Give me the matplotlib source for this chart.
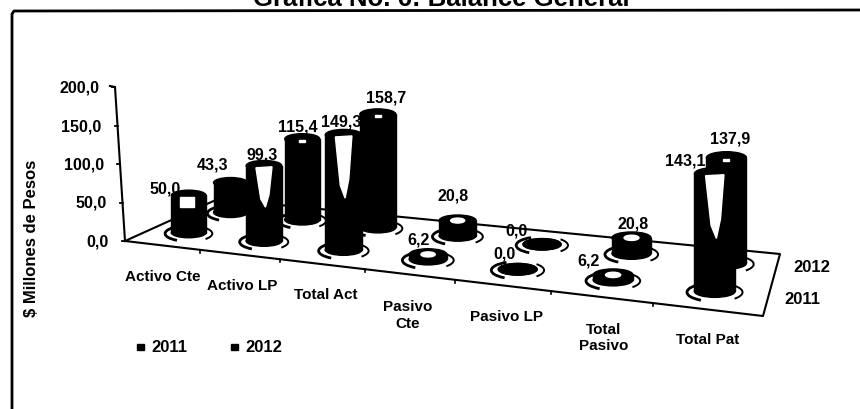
import numpy as np
import matplotlib
matplotlib.use("Agg")
import matplotlib.pyplot as plt
from matplotlib.patches import Ellipse, Rectangle, Arc, Polygon

categories = ["Activo Cte", "Activo LP", "Total Act", "Pasivo\nCte", "Pasivo LP", "Total\nPasivo", "Total Pat"]
values_2011 = [50.0, 99.3, 149.3, 6.2, 0.0, 6.2, 143.1]
values_2012 = [43.3, 115.4, 158.7, 20.8, 0.0, 20.8, 137.9]
y_ticks = [0, 50, 100, 150, 200]

# label nudges in pixels, 2011 then 2012
nudge_2011 = [(-24, -7), (-2, -12), (-2, -14), (-9, -15), (-13, -16), (-25, -15), (-30, -14)]
nudge_2012 = [(-18, -19), (-4, -13), (8, -17), (-5, -26), (-26, -14), (2, -15), (4, -20)]

# category label nudges
label_dx = [1, 3, 4, -1, 4, 2, 0]
label_drop = [31, 31, 30, 40, 31, 40, 30]

plt.rcParams["font.family"] = ["Liberation Sans", "DejaVu Sans"]

# floor corners in pixels: front left, front right, back right, back left
FLOOR = [(125, 242), (763, 317), (780, 255), (218, 200)]


def homography(corners):
    rows, rhs = [], []
    for (u, v), (x, y) in zip([(0, 0), (1, 0), (1, 1), (0, 1)], corners):
        rows.append([u, v, 1, 0, 0, 0, -u * x, -v * x])
        rows.append([0, 0, 0, u, v, 1, -u * y, -v * y])
        rhs += [x, y]
    return np.append(np.linalg.solve(np.array(rows, float), np.array(rhs, float)), 1).reshape(3, 3)


H = homography(FLOOR)


def project(u, v):
    p = H @ np.array([u, v, 1.0])
    return p[0] / p[2], p[1] / p[2]


def px_per_unit(u, v):
    # bars get taller towards the viewer
    return 0.77 + 0.09 * u - 0.12 * v


def cylinder(ax, u, v, value, year_row):
    x, y = project(u, v)
    half = 0.0285 * 638 * (0.95 + 0.2 * u) * (1.0 - 0.04 * v)
    w = 2 * half
    h = w * 0.3
    top = y - value * px_per_unit(u, v)

    # broken shadow ring on the floor
    ax.add_patch(Arc((x, y + 1), w * 1.36, h * 1.5, theta1=150, theta2=215, color="black", lw=2, zorder=3))
    ax.add_patch(Arc((x, y + 1), w * 1.36, h * 1.5, theta1=-18, theta2=18, color="black", lw=1.4, zorder=3))

    z = 4 + v * -1 + u * 0.1 + (1 if year_row == 0 else 0)
    ax.add_patch(Ellipse((x, y), w, h, color="black", zorder=z))
    ax.add_patch(Rectangle((x - half, top), w, y - top, color="black", zorder=z))
    ax.add_patch(Ellipse((x, top), w, h, color="black", zorder=z))

    # bright streak left by the scan on the glossy face
    if value > 90 and year_row == 0:
        sheen_h = (y - top) * 0.55
        ax.add_patch(Polygon([(x - half * 0.45, top + 2), (x + half * 0.45, top + 1),
                              (x + half * 0.28, top + sheen_h * 0.7), (x + half * 0.08, top + sheen_h),
                              (x - half * 0.18, top + sheen_h * 0.8)],
                             color="white", zorder=z + 0.01))
    elif value > 100:
        ax.add_patch(Rectangle((x - 3, top + 1), 6, 2, color="white", zorder=z + 0.01))
    elif 45 < value < 60:
        ax.add_patch(Rectangle((x - half * 0.5, top + 2), half * 0.8, 10, color="white", zorder=z + 0.01))
    elif 0 < value < 30:
        ax.add_patch(Ellipse((x, top), w * 0.38, h * 0.45, color="white", zorder=z + 0.01))
    return x, top


fig = plt.figure(figsize=(8.6, 4.1), dpi=100)
ax = fig.add_axes([0, 0, 1, 1])
ax.set_xlim(0, 860)
ax.set_ylim(410, 0)
ax.axis("off")

ax.text(441, 6, "Grafica No. 6: Balance General", ha="center", va="baseline", fontsize=18.5, fontweight="bold", clip_on=False)

# frame runs off the right and bottom of the scan
ax.plot([860, 14, 12, 12], [11, 12, 15, 410], color="black", lw=2, zorder=2)

# floor and value axis
fx = [FLOOR[0][0], FLOOR[1][0], FLOOR[2][0], FLOOR[3][0], FLOOR[0][0]]
fy = [FLOOR[0][1], FLOOR[1][1], FLOOR[2][1], FLOOR[3][1], FLOOR[0][1]]
ax.plot(fx, fy, color="black", lw=1.5, zorder=2)
axis_top = (115, 88)
ax.plot([FLOOR[0][0], axis_top[0], axis_top[0] - 5], [FLOOR[0][1], axis_top[1], axis_top[1] - 1], color="black", lw=1.5, zorder=2)
for t in y_ticks:
    f = t / y_ticks[-1]
    tx = FLOOR[0][0] + (axis_top[0] - FLOOR[0][0]) * f
    ty = FLOOR[0][1] + (axis_top[1] - FLOOR[0][1]) * f
    ax.plot([tx - 3, tx], [ty, ty], color="black", lw=1.3, zorder=2)
    ax.text(tx - 16, ty, f"{t:.1f}".replace(".", ","), ha="right", va="center", fontsize=11.5, fontweight="bold")

n = len(categories)
for i in range(1, n):
    x, y = project(i / n, 0)
    ax.plot([x, x], [y, y + 3], color="black", lw=1.2, zorder=2)

ax.text(32, 238, "$ Millones de Pesos", rotation=90, ha="center", va="center", fontsize=12, fontweight="bold")

for row, vals, nudges in [(1, values_2012, nudge_2012), (0, values_2011, nudge_2011)]:
    v = 0.27 if row == 0 else 0.74
    for i, val in enumerate(vals):
        x, top = cylinder(ax, (i + 0.5) / n, v, val, row)
        dx, dy = nudges[i]
        ax.text(x + dx, top + dy, f"{val:.1f}".replace(".", ","), ha="center", va="center", fontsize=11.5, fontweight="bold", zorder=20)

# category labels hang below the front edge
for i, c in enumerate(categories):
    x, y = project((i + 0.5) / n, 0)
    ax.text(x + label_dx[i], y + label_drop[i], c, ha="center", va="center", fontsize=11, fontweight="bold", linespacing=1.25)

ax.text(793, 268, "2012", ha="left", va="center", fontsize=12, fontweight="bold")
ax.text(784, 300, "2011", ha="left", va="center", fontsize=12, fontweight="bold")

# legend
for lx, name in [(141, "2011"), (235, "2012")]:
    ax.add_patch(Rectangle((lx - 4, 345), 7, 6, color="black"))
    ax.text(lx + 10, 348, name, ha="left", va="center", fontsize=12, fontweight="bold")

fig.savefig("out.png", dpi=100)
